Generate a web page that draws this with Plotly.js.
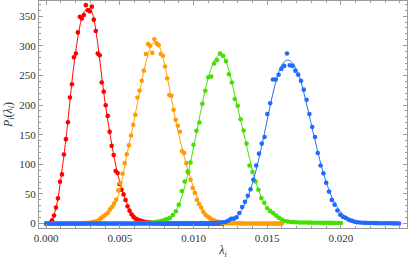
<!DOCTYPE html>
<html>
<head>
<meta charset="utf-8">
<script src="https://cdn.plot.ly/plotly-3.0.1.min.js"></script>
<style>html,body{margin:0;padding:0;background:#fff;}#chart{width:409px;height:264px;}</style>
</head>
<body>
<div id="chart"></div>
<script>
// ---- data (histogram points: values on an evenly spaced grid starting at 0) ----
const seriesNames = ["red", "orange", "green", "blue"];
const seriesColors = ["#ff0000", "#ff9c00", "#44e000", "#1f6bff"];
const seriesStart = [0, 0, 0, 0];
const seriesStep = [0.0001348, 0.0001441, 0.0002, 0.00019];

const redY = [0, 0.3, 1.5, 5.6, 13.5, 27, 42.6, 70.7, 83, 116.7,
  142.5, 171, 212.6, 235, 280.5, 287, 322.5, 349, 346, 352,
  368.5, 360, 358, 366, 344, 325, 287, 284, 238, 222.6,
  199.7, 181.7, 154.8, 131.2, 115.6, 88.7, 85.3, 66.8, 57.2, 49.3,
  39.9, 29.1, 21.9, 15.6, 11.3, 8.4, 6.7, 5.6, 4.5, 3.5,
  2.8, 2.2, 1.7, 1.3, 1.0, 0.8, 0.6, 0.5, 0.4, 0.4,
  0.3, 0.3, 0.2, 0.2, 0.2, 0.1, 0.1, 0.1, 0.1, 0.1,
  0.1, 0, 0, 0, 0.1, 0, 0, 0, 0, 0,
  0, 0, 0, 0, 0, 0, 0, 0, 0, 0];

const orangeY = [0, 0, 0, 0, 0, 0, 0, 0, 0, 0.1,
  0.1, 0.1, 0.1, 0.2, 0.2, 0.3, 0.3, 0.5, 0.7, 1,
  1.5, 2, 2.7, 3.5, 4.5, 6.7, 9.6, 12.3, 15, 18,
  23.6, 28, 33.7, 40.4, 56, 68.5, 84, 102, 117, 132,
  148.6, 166.6, 183.5, 212.6, 224.4, 241, 258, 286, 303, 300,
  288, 311, 304, 301, 286, 283, 265, 245, 217, 215.5,
  192, 175, 165, 155, 122, 119, 102, 86, 74, 60,
  52, 40, 33, 27, 20, 15, 12, 9.6, 6.7, 5.6,
  4, 3, 2, 1.3, 1, 0.9, 0.8, 0.7, 0.6, 0.5,
  0.5, 0.4, 0.4, 0.3, 0.3, 0.3, 0.2, 0.2, 0.2, 0.2,
  0.1, 0.1, 0.1, 0.1, 0.1, 0.1, 0.1, 0, 0, 0,
  0, 0];

const greenY = [0, 0, 0, 0, 0, 0, 0, 0, 0, 0,
  0, 0, 0, 0, 0, 0, 0, 0, 0, 0.1,
  0.1, 0.1, 0.1, 0.1, 0.2, 0.2, 0.2, 0.3, 0.3, 0.3,
  0.4, 0.5, 0.6, 0.8, 1.1, 1.5, 2, 2.8, 3.6, 4.5,
  5.8, 7.5, 9.6, 14.6, 20.7, 32, 55, 71, 88, 103,
  133, 156.5, 170.5, 202, 224, 247, 248, 270, 276, 287,
  283, 274, 252, 238, 210, 198.7, 176, 157, 135, 98,
  87, 71, 57, 43, 35, 26, 21, 18, 13.5, 9.6,
  6.7, 4.5, 3.4, 2.8, 2.5, 2.2, 2.0, 1.9, 1.8, 1.7,
  1.6, 1.5, 1.5, 1.4, 1.3, 1.3, 1.2, 1.2, 1.1, 1.1,
  1.0];

const blueY = [0, 0, 0, 0, 0, 0, 0, 0, 0, 0,
  0, 0, 0, 0, 0, 0, 0, 0, 0, 0,
  0, 0, 0, 0, 0, 0, 0, 0, 0, 0,
  0, 0, 0, 0, 0, 0, 0, 0, 0, 0,
  0, 0, 0, 0, 0, 0, 0, 0, 0, 0,
  0.1, 0.1, 0.2, 0.2, 0.3, 0.4, 0.5, 0.6, 0.8, 1.0,
  1.2, 1.5, 1.8, 2.2, 2.8, 5, 8, 8.4, 10.6, 18,
  28, 37, 47, 58, 74, 98, 118, 135, 146, 185,
  203, 243, 243, 251, 261, 266, 287, 267, 266, 258,
  251, 241, 226, 209, 185, 163, 146, 119, 98, 85,
  69, 54, 40, 32, 22, 15, 11.3, 9.6, 6.7, 5,
  3.4, 2.2, 1.8, 1.5, 1.3, 1.1, 1.0, 0.9, 0.8, 0.7,
  0.6, 0.6, 0.5, 0.5, 0.4, 0.4, 0.3];

// ---- fitted curves ----
const redFitX = [0, 0.0002, 0.0004, 0.0006, 0.0008, 0.0010, 0.0012, 0.0014, 0.0016, 0.0018,
  0.0020, 0.0022, 0.0024, 0.0026, 0.0028, 0.0030, 0.0032, 0.0034, 0.0036, 0.0038,
  0.0040, 0.0042, 0.0044, 0.0046, 0.0048, 0.0050, 0.0052, 0.0054, 0.0056, 0.0058,
  0.0060, 0.0062, 0.0064, 0.0066, 0.0068, 0.0070, 0.0075, 0.0080, 0.0090, 0.0100, 0.0120];
const redFitY = [0, 1, 5.5, 20, 41, 76, 113, 154, 202, 250,
  288, 321, 345, 358, 363, 362, 350, 322, 285, 243,
  205, 172, 142, 114, 90, 70, 53, 40, 27, 17,
  11.5, 8, 5.5, 4, 2.8, 2, 1, 0.4, 0.1, 0, 0];

const orangeFitX = [0, 0.0020, 0.0026, 0.0030, 0.0034, 0.0038, 0.0040, 0.0042, 0.0044, 0.0046,
  0.0048, 0.0050, 0.0052, 0.0054, 0.0056, 0.0058, 0.0060, 0.0062, 0.0064, 0.0066,
  0.0068, 0.0070, 0.0072, 0.0074, 0.0076, 0.0078, 0.0080, 0.0082, 0.0084, 0.0086,
  0.0088, 0.0090, 0.0092, 0.0094, 0.0096, 0.0098, 0.0100, 0.0102, 0.0104, 0.0106,
  0.0108, 0.0110, 0.0112, 0.0114, 0.0116, 0.0118, 0.0120, 0.0124, 0.0130, 0.0140, 0.0160];
const orangeFitY = [0, 0.3, 1, 2, 4, 9, 12, 16, 22, 29,
  40, 56, 80, 106, 130, 153, 178, 204, 229, 253,
  275, 292, 303, 307, 303, 291, 273, 250, 224, 198,
  173, 150, 129, 110, 92, 76, 61, 48, 35, 24,
  17, 12.5, 9, 6.3, 4.5, 3, 2, 1, 0.5, 0.2, 0];

const greenFitX = [0, 0.0040, 0.0060, 0.0070, 0.0076, 0.0080, 0.0082, 0.0084, 0.0086, 0.0088,
  0.0090, 0.0092, 0.0094, 0.0096, 0.0098, 0.0100, 0.0102, 0.0104, 0.0106, 0.0108,
  0.0110, 0.0112, 0.0114, 0.0116, 0.0118, 0.0120, 0.0122, 0.0124, 0.0126, 0.0128,
  0.0130, 0.0132, 0.0134, 0.0136, 0.0138, 0.0140, 0.0142, 0.0144, 0.0146, 0.0148,
  0.0150, 0.0152, 0.0154, 0.0156, 0.0158, 0.0160, 0.0162, 0.0164, 0.0168, 0.0175,
  0.0185, 0.0200];
const greenFitY = [0, 0.1, 0.4, 1.5, 3.5, 5.8, 7.8, 10.5, 14.5, 21,
  31, 45, 62, 82, 104, 128, 153, 178, 203, 226,
  246, 262, 274, 282, 285, 283, 274, 259, 239, 217,
  195, 174, 153, 131, 110, 89, 72, 57, 44, 34,
  26, 20, 15, 11.5, 8.5, 6.3, 4.7, 3.6, 2.5, 1.8,
  1.3, 0.9];

const blueFitX = [0, 0.0080, 0.0100, 0.0110, 0.0116, 0.0120, 0.0124, 0.0128, 0.0130, 0.0132,
  0.0134, 0.0136, 0.0138, 0.0140, 0.0142, 0.0144, 0.0146, 0.0148, 0.0150, 0.0152,
  0.0154, 0.0156, 0.0158, 0.0160, 0.0162, 0.0164, 0.0166, 0.0168, 0.0170, 0.0172,
  0.0174, 0.0176, 0.0178, 0.0180, 0.0182, 0.0184, 0.0186, 0.0188, 0.0190, 0.0192,
  0.0194, 0.0196, 0.0198, 0.0200, 0.0202, 0.0204, 0.0206, 0.0208, 0.0212, 0.0216,
  0.0220, 0.0240];
const blueFitY = [0, 0, 0.4, 1, 1.8, 2.8, 5, 9.5, 13.5, 20,
  29, 40, 53, 68, 86, 106, 128, 151, 175, 199,
  221, 241, 257, 268, 274, 276, 274, 268, 259, 246,
  229, 209, 188, 166, 145, 124, 104, 86, 70, 56,
  44, 34, 26, 19, 14, 10, 7.3, 5.3, 2.8, 1.5,
  0.9, 0.2];

const xTickVals = [0, 0.005, 0.010, 0.015, 0.020];
const xTickText = ["0.000", "0.005", "0.010", "0.015", "0.020"];
const yTickVals = [0, 50, 100, 150, 200, 250, 300, 350];
const yTickText = ["0", "50", "100", "150", "200", "250", "300", "350"];

// ---- build traces ----
const pointsY = [redY, orangeY, greenY, blueY];
const fitX = [redFitX, orangeFitX, greenFitX, blueFitX];
const fitY = [redFitY, orangeFitY, greenFitY, blueFitY];

const traces = [];
for (let k = 0; k < 4; k++) {
  traces.push({
    type: "scatter", mode: "lines", name: seriesNames[k] + " fit",
    x: fitX[k], y: fitY[k],
    line: {color: seriesColors[k], width: 1, shape: "spline", smoothing: 0.6},
    hoverinfo: "skip"
  });
  traces.push({
    type: "scatter", mode: "markers", name: seriesNames[k],
    x0: seriesStart[k], dx: seriesStep[k], y: pointsY[k],
    marker: {color: seriesColors[k], size: 4.6, line: {width: 0}}
  });
}

const axisColor = "#9a9a9a";
const serif = "Liberation Serif";
const tickFont = {family: serif, size: 11, color: "#333333"};
const titleFont = {family: serif, size: 12, color: "#333333"};

const layout = {
  width: 409, height: 264,
  margin: {l: 39, r: 2, t: 1, b: 36},
  paper_bgcolor: "#ffffff", plot_bgcolor: "#ffffff",
  showlegend: false,
  font: {family: serif, size: 11, color: "#333333"},
  xaxis: {
    range: [-0.00048, 0.02448],
    tickmode: "array", tickvals: xTickVals, ticktext: xTickText,
    ticks: "inside", ticklen: 4, tickwidth: 1, tickcolor: axisColor,
    showline: true, linecolor: axisColor, linewidth: 1, mirror: "ticks",
    showgrid: false, zeroline: false,
    minor: {ticks: "inside", tick0: 0, dtick: 0.001, ticklen: 2, tickcolor: axisColor, showgrid: false},
    tickfont: tickFont,
    title: {text: "<i>λ</i><sub><i>i</i></sub>", font: titleFont, standoff: 2},
    automargin: false
  },
  yaxis: {
    range: [-7.4, 375.5],
    tickmode: "array", tickvals: yTickVals, ticktext: yTickText,
    ticks: "inside", ticklen: 4, tickwidth: 1, tickcolor: axisColor,
    showline: true, linecolor: axisColor, linewidth: 1, mirror: "ticks",
    showgrid: false, zeroline: false,
    minor: {ticks: "inside", tick0: 0, dtick: 10, ticklen: 2, tickcolor: axisColor, showgrid: false},
    tickfont: tickFont,
    title: {text: "<i>P</i><sub><i>i</i></sub>(<i>λ</i><sub><i>i</i></sub>)", font: titleFont, standoff: 4},
    automargin: false
  }
};

Plotly.newPlot("chart", traces, layout, {displayModeBar: false, staticPlot: true});
</script>
</body>
</html>
